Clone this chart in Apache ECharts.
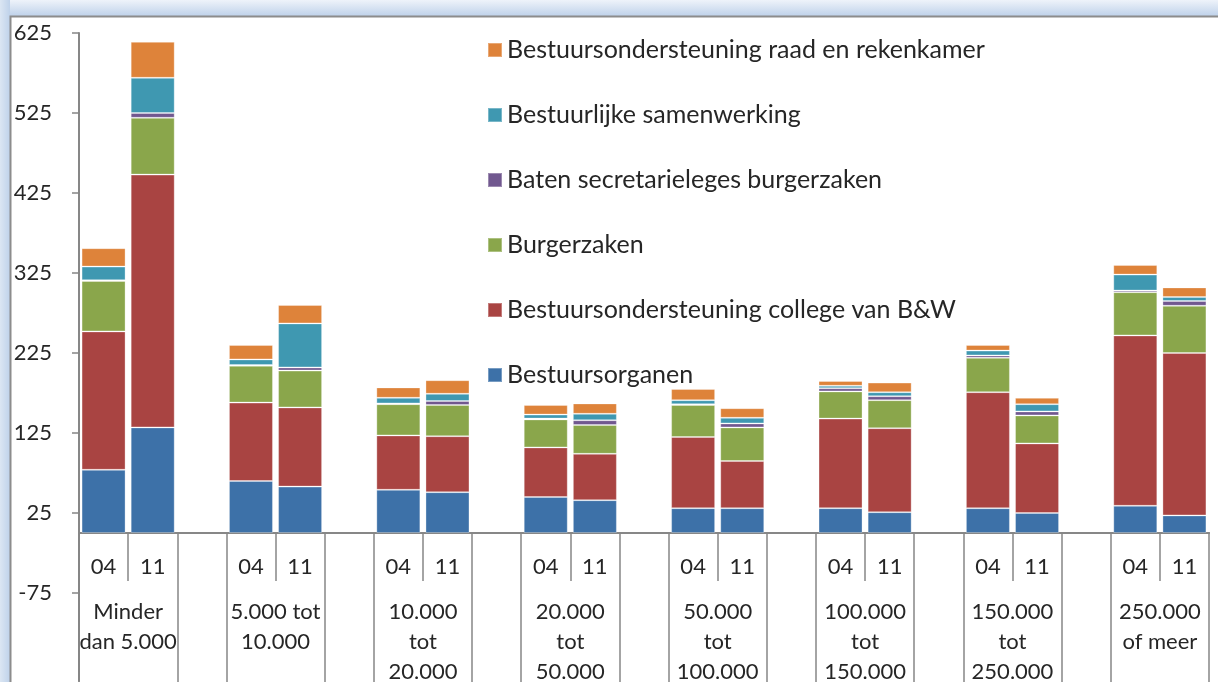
<!DOCTYPE html>
<html>
<head>
<meta charset="utf-8">
<script src="https://cdn.jsdelivr.net/npm/echarts@6/dist/echarts.min.js"></script>
<style>
  html, body { margin: 0; padding: 0; background: #fff; }
  #chart { width: 1218px; height: 682px; }
</style>
</head>
<body>
<div id="chart"></div>
<script>
// two bars per size class: 2004 and 2011
const years = ["04", "11"];
const groups = [
  "Minder\ndan 5.000",
  "5.000 tot\n10.000",
  "10.000\ntot\n20.000",
  "20.000\ntot\n50.000",
  "50.000\ntot\n100.000",
  "100.000\ntot\n150.000",
  "150.000\ntot\n250.000",
  "250.000\nof meer",
];
const yTicks = [25, 125, 225, 325, 425, 525, 625];
const yTicksBelow = [-75];

// values per bar, in order group1-04, group1-11, group2-04, ...
const organen = [79, 132, 65, 58, 54, 51, 45, 41, 31, 31, 31, 26, 31, 25, 34, 22];
const college = [173, 316, 98, 99, 68, 70, 62, 58, 89, 59, 112, 105, 145, 87, 213, 203];
const burgerzaken = [63, 71, 46, 46, 39, 39, 35, 36, 40, 42, 34, 35, 43, 35, 54, 59];
const baten = [1, 6, 1, 4, 1, 5, 1, 6, 1, 5, 4, 5, 3, 5, 2, 6];
const samenwerking = [17, 44, 7, 55, 7, 9, 5, 8, 5, 7, 3, 5, 6, 9, 20, 5];
const raad = [23, 45, 18, 23, 13, 17, 12, 13, 14, 12, 6, 12, 7, 8, 12, 12];

const seriesDefs = [
  { name: "Bestuursorganen", data: organen, color: "#3d71a8" },
  { name: "Bestuursondersteuning college van B&W", data: college, color: "#a94442" },
  { name: "Burgerzaken", data: burgerzaken, color: "#8aa64b" },
  { name: "Baten secretarieleges burgerzaken", data: baten, color: "#71588f" },
  { name: "Bestuurlijke samenwerking", data: samenwerking, color: "#3f98b1" },
  { name: "Bestuursondersteuning raad en rekenkamer", data: raad, color: "#de833a" },
];

// slots: 04, 11, blank gap between groups
const slots = [];
groups.forEach((g, i) => {
  slots.push(years[0], years[1]);
  if (i < groups.length - 1) slots.push("");
});
// boundaries between slots, group label sits on the 04|11 boundary
const bounds = [];
for (let i = 0; i <= slots.length; i++) {
  bounds.push(i % 3 === 1 ? groups[(i - 1) / 3] : "");
}

function spread(vals) {
  const out = [];
  vals.forEach((v, i) => {
    out.push(v);
    if (i % 2 === 1 && i < vals.length - 1) out.push(null);
  });
  return out;
}

const FONT = "Lato";
const TXT = "#262626";
const AX = "#878787";
const axisLine = { show: true, onZero: false, lineStyle: { color: AX, width: 2 } };

const chart = echarts.init(document.getElementById("chart"));
chart.setOption({
  animation: false,
  backgroundColor: "#fff",
  textStyle: { fontFamily: FONT },
  graphic: [
    {
      type: "rect", left: 0, top: 0, z: -1,
      shape: { width: 1218, height: 16 },
      style: { fill: new echarts.graphic.LinearGradient(0, 0, 0, 1, [
        { offset: 0, color: "#eef3fa" }, { offset: 1, color: "#bfd2ea" }]) },
    },
    {
      type: "rect", left: 0, top: 0, z: -1,
      shape: { width: 10, height: 682 },
      style: { fill: new echarts.graphic.LinearGradient(0, 0, 1, 0, [
        { offset: 0, color: "#dbe6f3" }, { offset: 1, color: "#bfd2ea" }]) },
    },
    {
      type: "polyline", z: 0,
      shape: { points: [[10.5, 682], [10.5, 16.5], [1218, 16.5]] },
      style: { stroke: "#8c8c8c", lineWidth: 2, fill: null },
    },
  ],
  legend: {
    orient: "vertical",
    left: 482,
    top: 30,
    itemWidth: 14,
    itemHeight: 14,
    itemGap: 35,
    icon: "rect",
    data: seriesDefs.map((s) => s.name).reverse(),
    textStyle: { fontFamily: FONT, fontSize: 25, lineHeight: 30, color: TXT },
  },
  grid: [
    // bars: 0 .. 625
    { left: 79, right: 9, top: 33, height: 500, containLabel: false, outerBoundsMode: "none" },
    // axis continuation below the category line
    { left: 79, right: 9, top: 533, height: 148, containLabel: false, outerBoundsMode: "none" },
  ],
  xAxis: [
    {
      type: "category",
      gridIndex: 0,
      data: slots,
      position: "bottom",
      axisLine,
      axisTick: { show: true, interval: (i) => i % 3 === 1, length: 48, lineStyle: { color: AX, width: 1.5 } },
      axisLabel: { interval: 0, margin: 23, fontSize: 22, color: TXT, fontFamily: FONT },
    },
    {
      type: "category",
      gridIndex: 0,
      data: bounds,
      boundaryGap: false,
      position: "bottom",
      axisLine,
      axisTick: { show: true, interval: (i) => i % 3 !== 1, length: 170, lineStyle: { color: AX, width: 1.5 } },
      axisLabel: { interval: 0, margin: 64, fontSize: 22, lineHeight: 30, color: TXT, fontFamily: FONT, align: "center" },
    },
    { type: "category", gridIndex: 1, data: slots, show: false },
  ],
  yAxis: [
    {
      type: "value",
      gridIndex: 0,
      min: 0,
      max: 625,
      splitLine: { show: false },
      axisLine,
      axisTick: { show: true, length: 7, customValues: yTicks, lineStyle: { color: AX, width: 1.5 } },
      axisLabel: { customValues: yTicks, margin: 27, fontSize: 22, color: TXT, fontFamily: FONT },
    },
    {
      type: "value",
      gridIndex: 1,
      min: -185,
      max: 0,
      splitLine: { show: false },
      axisLine,
      axisTick: { show: true, length: 7, customValues: yTicksBelow, lineStyle: { color: AX, width: 1.5 } },
      axisLabel: { customValues: yTicksBelow, margin: 27, fontSize: 22, color: TXT, fontFamily: FONT },
    },
  ],
  series: seriesDefs.map((s) => ({
    name: s.name,
    type: "bar",
    stack: "total",
    xAxisIndex: 0,
    yAxisIndex: 0,
    barWidth: 44,
    data: spread(s.data),
    itemStyle: { color: s.color, borderColor: "rgba(255,255,255,0.3)", borderWidth: 1 },
  })),
});
</script>
</body>
</html>
